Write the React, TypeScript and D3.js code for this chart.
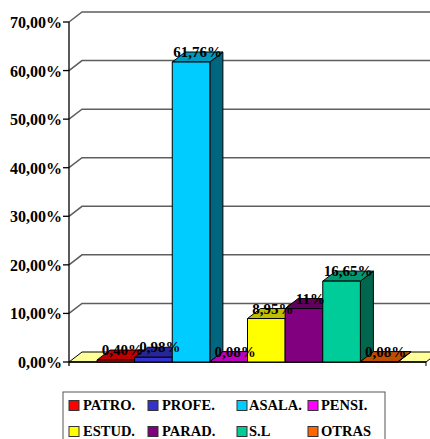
import React from 'react';
import * as d3 from 'd3';

const categories = ['PATRO.', 'PROFE.', 'ASALA.', 'PENSI.', 'ESTUD.', 'PARAD.', 'S.L', 'OTRAS'];
const values = [0.4, 0.98, 61.76, 0.08, 8.95, 11, 16.65, 0.08];
const valueLabels = ['0,40%', '0,98%', '61,76%', '0,08%', '8,95%', '11%', '16,65%', '0,08%'];
const colors = ['#FF0000', '#3333CC', '#00CCFF', '#FF00FF', '#FFFF00', '#800080', '#00CC99', '#FF6600'];
const yTicks = [0, 10, 20, 30, 40, 50, 60, 70];

const W = 430;
const H = 439;
const DX = 13;
const DY = -10;
const FONT = 'Liberation Serif';

function shade(c: string, k: number) {
  const col = d3.rgb(c);
  return d3.rgb(col.r * k, col.g * k, col.b * k).toString();
}

export default function App() {
  const y = d3.scaleLinear().domain([0, 70]).range([362, 22]);
  const x = d3.scaleBand<string>().domain(categories).range([97, 398]).padding(0);
  const floorL = 69;
  const floorR = 426;
  const y0 = y(0);
  const fmt = (v: number) => d3.format('.2f')(v).replace('.', ',') + '%';
  const pts = (a: [number, number][]) => a.map((p) => p.join(',')).join(' ');

  const legendCols = [69, 148, 237, 308];
  const legendText = [83, 162, 249, 321];
  const legendRows = [410, 436];

  return (
    <svg width={W} height={H} style={{ position: 'absolute', left: 0, top: 0, background: '#fff' }}>
      {yTicks.map((t) =>
        t > 0 ? (
          <polyline
            key={'g' + t}
            points={pts([
              [floorL, y(t)],
              [floorL + DX, y(t) + DY],
              [W + 10, y(t) + DY],
            ])}
            fill="none"
            stroke="#5e5e5e"
            strokeWidth={1.5}
          />
        ) : null
      )}
      <polygon
        points={pts([
          [floorL, y0],
          [floorR, y0],
          [floorR + DX, y0 + DY],
          [floorL + DX, y0 + DY],
        ])}
        fill="#FFFF99"
        stroke="#000"
        strokeWidth={1}
      />
      <line x1={floorL} x2={floorL} y1={y(70)} y2={y0 + 4} stroke="#000" strokeWidth={1.3} />
      <line x1={floorL} x2={floorR} y1={y0} y2={y0} stroke="#000" strokeWidth={1.3} />
      <line x1={floorR} x2={floorR} y1={y0} y2={y0 + 4} stroke="#000" strokeWidth={1} />
      {yTicks.map((t) => (
        <g key={'t' + t}>
          <line x1={floorL - 6} x2={floorL} y1={y(t)} y2={y(t)} stroke="#000" strokeWidth={1.3} />
          <text x={62} y={y(t) + 6} textAnchor="end" fontFamily={FONT} fontWeight="bold" fontSize={16} fill="#000">
            {fmt(t)}
          </text>
        </g>
      ))}
      {categories.map((c, i) => {
        const x0 = x(c)!;
        const x1 = x0 + x.bandwidth();
        const yt = y(values[i]);
        return (
          <g key={c} stroke="#000" strokeWidth={1} strokeLinejoin="round">
            <polygon
              points={pts([
                [x1, y0],
                [x1 + DX, y0 + DY],
                [x1 + DX, yt + DY],
                [x1, yt],
              ])}
              fill={shade(colors[i], 0.5)}
            />
            <polygon
              points={pts([
                [x0, yt],
                [x1, yt],
                [x1 + DX, yt + DY],
                [x0 + DX, yt + DY],
              ])}
              fill={shade(colors[i], 0.75)}
            />
            <rect x={x0} y={yt} width={x1 - x0} height={y0 - yt} fill={colors[i]} />
          </g>
        );
      })}
      {categories.map((c, i) => (
        <text
          key={'l' + c}
          x={x(c)! + x.bandwidth() / 2 + DX / 2}
          y={y(values[i]) - 5}
          textAnchor="middle"
          fontFamily={FONT}
          fontWeight="bold"
          fontSize={15}
          fill="#000"
        >
          {valueLabels[i]}
        </text>
      ))}
      <rect x={63} y={392} width={322} height={60} fill="#fff" stroke="#555" strokeWidth={1} />
      {categories.map((c, i) => {
        const col = i % 4;
        const row = Math.floor(i / 4);
        const sx = legendCols[col];
        const by = legendRows[row];
        return (
          <g key={'lg' + c}>
            <rect x={sx} y={by - 9.5} width={10} height={10} fill={colors[i]} stroke="#333" strokeWidth={1} />
            <text x={legendText[col]} y={by} fontFamily={FONT} fontWeight="bold" fontSize={14.5} fill="#000">
              {c}
            </text>
          </g>
        );
      })}
    </svg>
  );
}
